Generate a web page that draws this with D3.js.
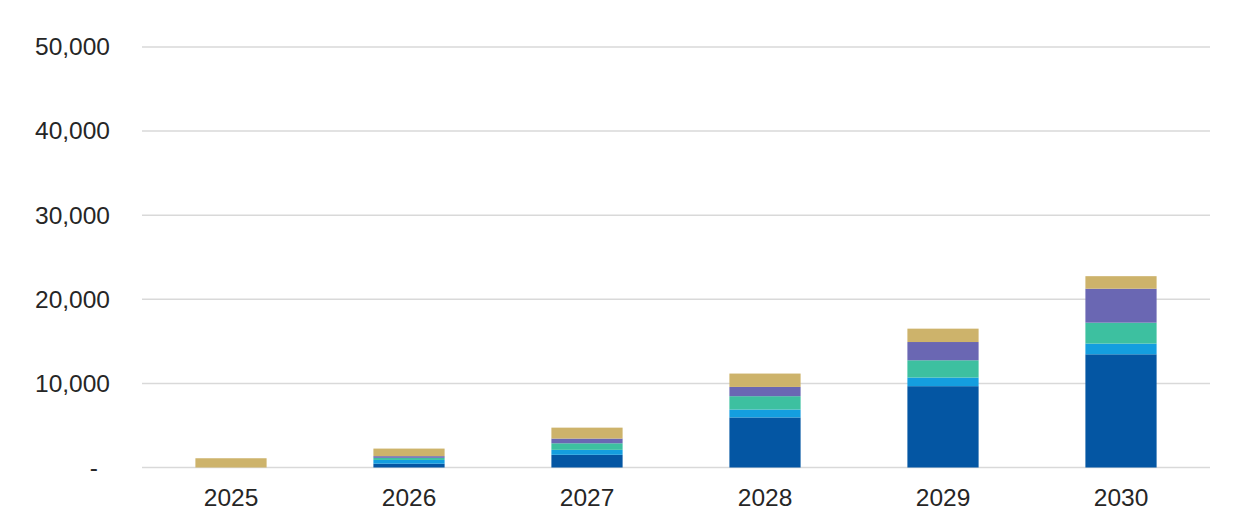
<!DOCTYPE html>
<html>
<head>
<meta charset="utf-8">
<script src="https://cdn.jsdelivr.net/npm/d3@7"></script>
<style>
  body { margin: 0; background: #fff; }
  svg { display: block; }
  .tick text { font-family: 'Liberation Sans', Arial, sans-serif; fill: #262626; }
</style>
</head>
<body>
<div id="chart"></div>
<script>
/* chart data */
const years = ['2025', '2026', '2027', '2028', '2029', '2030']
const seriesNames = ['s1', 's2', 's3', 's4', 's5']
const s1 = [0, 450, 1510, 5950, 9670, 13460]
const s2 = [0, 450, 590, 950, 1030, 1270]
const s3 = [0, 250, 780, 1580, 2050, 2490]
const s4 = [0, 200, 560, 1100, 2170, 4040]
const s5 = [1100, 900, 1300, 1590, 1590, 1490]
const yTicks = [0, 10000, 20000, 30000, 40000, 50000]

const colors = ['#0456a3', '#149edf', '#3dc0a0', '#6a67b3', '#cdb36b']

/* dimensions */
const W = 1238
const H = 527
const margin = { top: 47, left: 142, right: 28, bottom: 59.5 }

/* build rows for d3.stack */
const rows = years.map((y, i) => ({
  year: y, s1: s1[i], s2: s2[i], s3: s3[i], s4: s4[i], s5: s5[i]
}))
const stacked = d3.stack().keys(seriesNames)(rows)

const svg = d3.select('#chart').append('svg')
  .attr('width', W)
  .attr('height', H)

const x = d3.scaleBand()
  .domain(years)
  .range([margin.left, W - margin.right])
  .paddingInner(0.6)
  .paddingOuter(0.3)

const y = d3.scaleLinear()
  .domain([0, 50000])
  .range([H - margin.bottom, margin.top])

/* gridlines */
svg.append('g')
  .selectAll('line')
  .data(yTicks)
  .join('line')
  .attr('x1', margin.left)
  .attr('x2', W - margin.right)
  .attr('y1', d => y(d))
  .attr('y2', d => y(d))
  .attr('stroke', '#d9d9d9')
  .attr('stroke-width', 1.5)

/* y axis labels */
const yAxis = d3.axisLeft(y)
  .tickValues(yTicks)
  .tickSize(0)
  .tickPadding(32)
  .tickFormat(d => d === 0 ? '-' : d3.format(',')(d))

const gy = svg.append('g')
  .attr('transform', `translate(${margin.left},0)`)
  .call(yAxis)
gy.select('.domain').remove()
gy.selectAll('text').attr('font-size', 24.5)
gy.selectAll('.tick').filter(d => d === 0).select('text').attr('dx', -12)

/* stacked bars */
svg.append('g')
  .selectAll('g')
  .data(stacked)
  .join('g')
  .attr('fill', (d, i) => colors[i])
  .selectAll('rect')
  .data(d => d)
  .join('rect')
  .attr('x', d => x(d.data.year))
  .attr('width', x.bandwidth())
  .attr('y', d => y(d[1]))
  .attr('height', d => y(d[0]) - y(d[1]))

/* x axis labels */
const gx = svg.append('g')
  .attr('transform', `translate(0,${H - margin.bottom})`)
  .call(d3.axisBottom(x).tickSize(0).tickPadding(21))
gx.select('.domain').remove()
gx.selectAll('text').attr('font-size', 24.5)
</script>
</body>
</html>
